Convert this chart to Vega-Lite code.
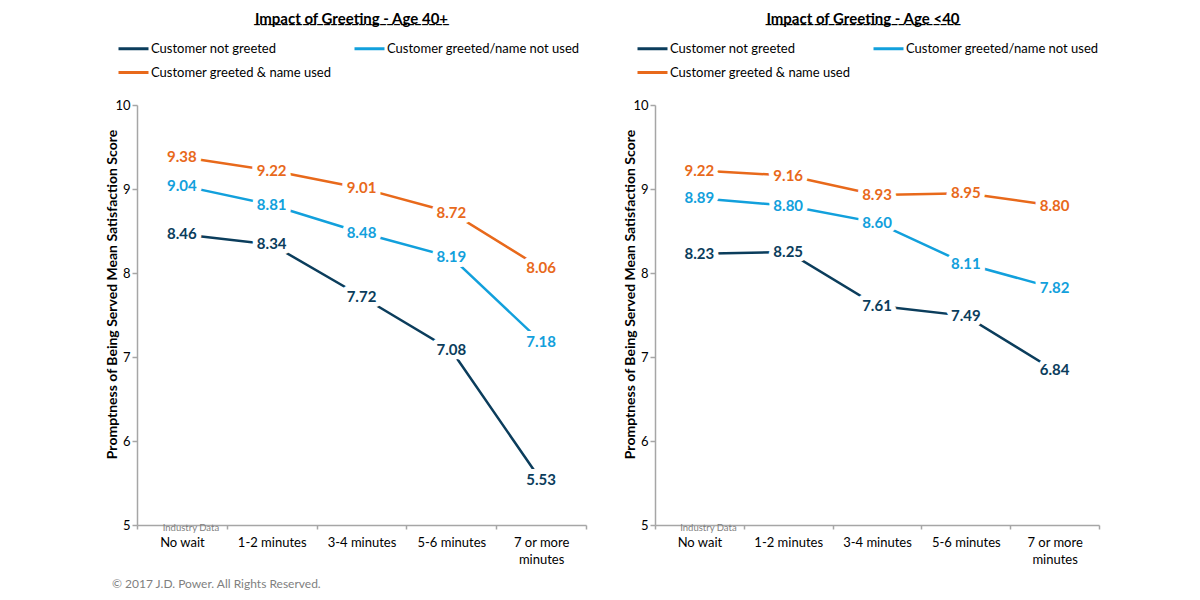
{
  "$schema": "https://vega.github.io/schema/vega-lite/v6.json",
  "description": "Impact of greeting on satisfaction with promptness, by wait time and age group.",
  "padding": {"left": 104, "top": 11, "right": 5, "bottom": 5},
  "config": {
    "font": "Lato",
    "view": {"stroke": null},
    "axis": {
      "labelFont": "Lato",
      "labelFontSize": 13,
      "labelColor": "black",
      "domainColor": "#A6A6A6",
      "domainWidth": 1.5,
      "tickColor": "#A6A6A6",
      "tickWidth": 1.5,
      "grid": false,
      "titleColor": "black"
    },
    "legend": {
      "orient": "none",
      "legendY": -73,
      "columns": 2,
      "direction": "horizontal",
      "title": null,
      "symbolType": "stroke",
      "symbolSize": 900,
      "symbolStrokeWidth": 3,
      "labelFontSize": 13,
      "labelColor": "black",
      "labelLimit": 400,
      "labelOffset": 1,
      "columnPadding": 16,
      "rowPadding": 0
    },
    "title": {"color": "black"}
  },
  "datasets": {
    "scores": [
      {"panel": "40+", "wait": "No wait", "series": "Customer not greeted", "score": 8.46},
      {"panel": "40+", "wait": "1-2 minutes", "series": "Customer not greeted", "score": 8.34},
      {"panel": "40+", "wait": "3-4 minutes", "series": "Customer not greeted", "score": 7.72},
      {"panel": "40+", "wait": "5-6 minutes", "series": "Customer not greeted", "score": 7.08},
      {"panel": "40+", "wait": "7 or more minutes", "series": "Customer not greeted", "score": 5.53},
      {"panel": "40+", "wait": "No wait", "series": "Customer greeted/name not used", "score": 9.04},
      {"panel": "40+", "wait": "1-2 minutes", "series": "Customer greeted/name not used", "score": 8.81},
      {"panel": "40+", "wait": "3-4 minutes", "series": "Customer greeted/name not used", "score": 8.48},
      {"panel": "40+", "wait": "5-6 minutes", "series": "Customer greeted/name not used", "score": 8.19},
      {"panel": "40+", "wait": "7 or more minutes", "series": "Customer greeted/name not used", "score": 7.18},
      {"panel": "40+", "wait": "No wait", "series": "Customer greeted & name used", "score": 9.38},
      {"panel": "40+", "wait": "1-2 minutes", "series": "Customer greeted & name used", "score": 9.22},
      {"panel": "40+", "wait": "3-4 minutes", "series": "Customer greeted & name used", "score": 9.01},
      {"panel": "40+", "wait": "5-6 minutes", "series": "Customer greeted & name used", "score": 8.72},
      {"panel": "40+", "wait": "7 or more minutes", "series": "Customer greeted & name used", "score": 8.06},
      {"panel": "<40", "wait": "No wait", "series": "Customer not greeted", "score": 8.23},
      {"panel": "<40", "wait": "1-2 minutes", "series": "Customer not greeted", "score": 8.25},
      {"panel": "<40", "wait": "3-4 minutes", "series": "Customer not greeted", "score": 7.61},
      {"panel": "<40", "wait": "5-6 minutes", "series": "Customer not greeted", "score": 7.49},
      {"panel": "<40", "wait": "7 or more minutes", "series": "Customer not greeted", "score": 6.84},
      {"panel": "<40", "wait": "No wait", "series": "Customer greeted/name not used", "score": 8.89},
      {"panel": "<40", "wait": "1-2 minutes", "series": "Customer greeted/name not used", "score": 8.80},
      {"panel": "<40", "wait": "3-4 minutes", "series": "Customer greeted/name not used", "score": 8.60},
      {"panel": "<40", "wait": "5-6 minutes", "series": "Customer greeted/name not used", "score": 8.11},
      {"panel": "<40", "wait": "7 or more minutes", "series": "Customer greeted/name not used", "score": 7.82},
      {"panel": "<40", "wait": "No wait", "series": "Customer greeted & name used", "score": 9.22},
      {"panel": "<40", "wait": "1-2 minutes", "series": "Customer greeted & name used", "score": 9.16},
      {"panel": "<40", "wait": "3-4 minutes", "series": "Customer greeted & name used", "score": 8.93},
      {"panel": "<40", "wait": "5-6 minutes", "series": "Customer greeted & name used", "score": 8.95},
      {"panel": "<40", "wait": "7 or more minutes", "series": "Customer greeted & name used", "score": 8.80}
    ],
    "notes": [
      {"wait": "No wait", "note": "Industry Data", "level": 5}
    ]
  },
  "title": {
    "text": "© 2017 J.D. Power. All Rights Reserved.",
    "orient": "bottom",
    "anchor": "start",
    "fontSize": 12,
    "fontWeight": "normal",
    "color": "#7F7F7F",
    "dx": 7,
    "offset": 13
  },
  "spacing": 35,
  "resolve": {"legend": {"color": "independent"}},
  "hconcat": [
    {
      "width": 449,
      "height": 420,
      "title": {
        "text": "Impact of Greeting - Age 40+",
        "subtitle": "____________________________",
        "fontSize": 15,
        "fontWeight": "bold",
        "subtitleFontSize": 15,
        "subtitleFontWeight": "bold",
        "subtitleColor": "black",
        "subtitlePadding": -16,
        "dx": -10,
        "offset": 4
      },
      "encoding": {
        "x": {
          "field": "wait",
          "type": "nominal",
          "sort": ["No wait", "1-2 minutes", "3-4 minutes", "5-6 minutes", "7 or more minutes"],
          "scale": {"type": "band", "paddingInner": 0, "paddingOuter": 0},
          "axis": {
            "title": null,
            "labelAngle": 0,
            "tickBand": "extent",
            "tickSize": 4,
            "labelPadding": 7,
            "labelLineHeight": 17,
            "labelExpr": "datum.label == '7 or more minutes' ? ['7 or more', 'minutes'] : datum.label"
          }
        },
        "y": {
          "field": "score",
          "type": "quantitative",
          "scale": {"domain": [5, 10]},
          "axis": {
            "values": [5, 6, 7, 8, 9, 10],
            "tickSize": 5,
            "labelPadding": 2,
            "title": "Promptness of Being Served Mean Satisfaction Score",
            "titleFontSize": 14,
            "titleFontWeight": "bold",
            "titleAngle": 270,
            "titleBaseline": "bottom",
            "titleX": -18,
            "titleY": 189
          }
        }
      },
      "layer": [
        {
          "data": {"name": "scores"},
          "transform": [{"filter": "datum.panel == '40+'"}],
          "mark": {"type": "line"},
          "encoding": {
            "color": {
              "field": "series",
              "type": "nominal",
              "scale": {
                "domain": ["Customer not greeted", "Customer greeted/name not used", "Customer greeted & name used"],
                "range": ["#0B3D5C", "#12A0DC", "#E8691B"]
              },
              "legend": {"legendX": -20}
            },
            "strokeWidth": {
              "field": "series",
              "type": "nominal",
              "scale": {
                "domain": ["Customer not greeted", "Customer greeted/name not used", "Customer greeted & name used"],
                "range": [2.5, 2.5, 3.5]
              },
              "legend": null
            }
          }
        },
        {
          "data": {"name": "scores"},
          "transform": [{"filter": "datum.panel == '40+'"}],
          "mark": {"type": "text", "fontSize": 15, "fontWeight": "bold", "fill": "white", "stroke": "white", "strokeWidth": 10, "strokeJoin": "round"},
          "encoding": {
            "text": {"field": "score", "type": "quantitative", "format": ".2f"},
            "detail": {"field": "series"}
          }
        },
        {
          "data": {"name": "scores"},
          "transform": [{"filter": "datum.panel == '40+'"}],
          "mark": {"type": "text", "fontSize": 15, "fontWeight": "bold"},
          "encoding": {
            "text": {"field": "score", "type": "quantitative", "format": ".2f"},
            "color": {"field": "series", "type": "nominal"}
          }
        },
        {
          "data": {"name": "notes"},
          "mark": {"type": "text", "fontSize": 9.5, "fill": "#7F7F7F", "dx": 9, "dy": 3, "baseline": "middle", "align": "center"},
          "encoding": {
            "x": {"field": "wait", "type": "nominal"},
            "y": {"field": "level", "type": "quantitative"},
            "text": {"field": "note", "type": "nominal"}
          }
        }
      ]
    },
    {
      "width": 444,
      "height": 420,
      "title": {
        "text": "Impact of Greeting - Age <40",
        "subtitle": "____________________________",
        "fontSize": 15,
        "fontWeight": "bold",
        "subtitleFontSize": 15,
        "subtitleFontWeight": "bold",
        "subtitleColor": "black",
        "subtitlePadding": -16,
        "dx": -14,
        "offset": 4
      },
      "encoding": {
        "x": {
          "field": "wait",
          "type": "nominal",
          "sort": ["No wait", "1-2 minutes", "3-4 minutes", "5-6 minutes", "7 or more minutes"],
          "scale": {"type": "band", "paddingInner": 0, "paddingOuter": 0},
          "axis": {
            "title": null,
            "labelAngle": 0,
            "tickBand": "extent",
            "tickSize": 4,
            "labelPadding": 7,
            "labelLineHeight": 17,
            "labelExpr": "datum.label == '7 or more minutes' ? ['7 or more', 'minutes'] : datum.label"
          }
        },
        "y": {
          "field": "score",
          "type": "quantitative",
          "scale": {"domain": [5, 10]},
          "axis": {
            "values": [5, 6, 7, 8, 9, 10],
            "tickSize": 5,
            "labelPadding": 2,
            "title": "Promptness of Being Served Mean Satisfaction Score",
            "titleFontSize": 14,
            "titleFontWeight": "bold",
            "titleAngle": 270,
            "titleBaseline": "bottom",
            "titleX": -18,
            "titleY": 189
          }
        }
      },
      "layer": [
        {
          "data": {"name": "scores"},
          "transform": [{"filter": "datum.panel == '<40'"}],
          "mark": {"type": "line"},
          "encoding": {
            "color": {
              "field": "series",
              "type": "nominal",
              "scale": {
                "domain": ["Customer not greeted", "Customer greeted/name not used", "Customer greeted & name used"],
                "range": ["#0B3D5C", "#12A0DC", "#E8691B"]
              },
              "legend": {"legendX": -19}
            },
            "strokeWidth": {
              "field": "series",
              "type": "nominal",
              "scale": {
                "domain": ["Customer not greeted", "Customer greeted/name not used", "Customer greeted & name used"],
                "range": [2.5, 2.5, 3.5]
              },
              "legend": null
            }
          }
        },
        {
          "data": {"name": "scores"},
          "transform": [{"filter": "datum.panel == '<40'"}],
          "mark": {"type": "text", "fontSize": 15, "fontWeight": "bold", "fill": "white", "stroke": "white", "strokeWidth": 10, "strokeJoin": "round"},
          "encoding": {
            "text": {"field": "score", "type": "quantitative", "format": ".2f"},
            "detail": {"field": "series"}
          }
        },
        {
          "data": {"name": "scores"},
          "transform": [{"filter": "datum.panel == '<40'"}],
          "mark": {"type": "text", "fontSize": 15, "fontWeight": "bold"},
          "encoding": {
            "text": {"field": "score", "type": "quantitative", "format": ".2f"},
            "color": {"field": "series", "type": "nominal"}
          }
        },
        {
          "data": {"name": "notes"},
          "mark": {"type": "text", "fontSize": 9.5, "fill": "#7F7F7F", "dx": 9, "dy": 3, "baseline": "middle", "align": "center"},
          "encoding": {
            "x": {"field": "wait", "type": "nominal"},
            "y": {"field": "level", "type": "quantitative"},
            "text": {"field": "note", "type": "nominal"}
          }
        }
      ]
    }
  ]
}
